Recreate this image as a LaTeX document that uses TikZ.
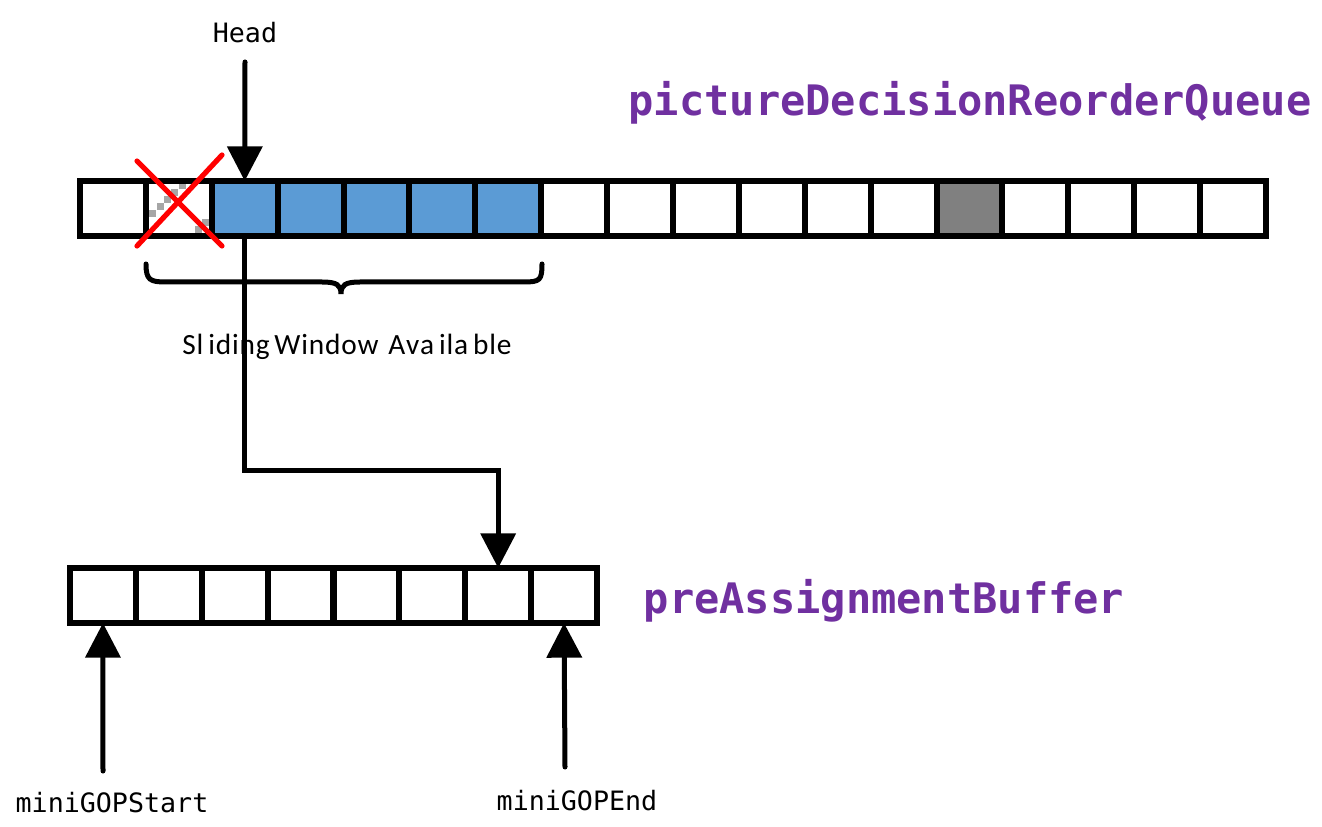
\documentclass[tikz,border=0pt]{standalone}
\usepackage{fontspec}
\setmainfont{Carlito}
\setmonofont{DejaVu Sans Mono}
\usetikzlibrary{arrows.meta}
\definecolor{qblue}{HTML}{5B9BD5}
\definecolor{qgray}{HTML}{808080}
\definecolor{chk}{HTML}{A6A6A6}
\definecolor{titlepurple}{HTML}{7030A0}
\newcommand\lk{\kern0.6pt}
\tikzset{
  cell/.style={draw=black, line width=4.5pt, minimum width=49.42pt, minimum height=41.25pt, inner sep=0pt, outer sep=0pt},
  bluecell/.style={cell, fill=qblue},
  graycell/.style={cell, fill=qgray},
  arr/.style={line width=3.75pt, -{Triangle[length=26pt,width=26pt]}},
  lbl/.style={font=\ttfamily\fontsize{20}{24}\selectfont, inner sep=0pt},
  title/.style={font=\ttfamily\bfseries\fontsize{31.5}{36}\selectfont, text=titlepurple, inner sep=0pt},
  crossline/.style={draw=red, line width=3.9pt, line cap=round},
  bracepath/.style={line width=3.75pt, line cap=round}
}
\begin{document}
\begin{tikzpicture}[x=0.75pt,y=-0.75pt]
\useasboundingbox (0,0) rectangle (1322,827);
% checker pattern in cell 2
\foreach \cx/\cy in {149/210,157/203,164/196,171/189,179/182,195/226,202/219}
  \fill[chk] (\cx,\cy) rectangle ++(7,7);
% top row
\foreach \i in {1,...,18}{
  \ifnum\i>2 \ifnum\i<8
    \node[bluecell] (q\i) at ({80+65.89*(\i-0.5)},208.5) {};
  \else
    \ifnum\i=14
      \node[graycell] (q\i) at ({80+65.89*(\i-0.5)},208.5) {};
    \else
      \node[cell] (q\i) at ({80+65.89*(\i-0.5)},208.5) {};
    \fi
  \fi
  \else
    \node[cell] (q\i) at ({80+65.89*(\i-0.5)},208.5) {};
  \fi
}
% bottom row
\foreach \i in {1,...,8}{
  \node[cell] (b\i) at ({70+65.875*(\i-0.5)},595.5) {};
}
% red cross
\draw[crossline] (137,161) -- (222,246);
\draw[crossline] (222,155) -- (137,246);
% titles
\node[title] (tq) at (970,103) {pictureDecisionReorderQueue};
\node[title] (tb) at (884,601) {preAssignmentBuffer};
% head
\node[lbl] (head) at (245,33) {Head};
\coordinate (headtop) at (245,62);
\draw[arr, line cap=round] (headtop) -- (q3.north);
% brace
\draw[bracepath] (146,264) .. controls (146,280) and (150,282) .. (166,282)
  -- (322,282) .. controls (337,282) and (341,285) .. (341,294)
  .. controls (341,285) and (345,282) .. (360,282)
  -- (524,282) .. controls (540,282) and (542,280) .. (542,264);
\node[font=\fontsize{22}{26}\selectfont, inner sep=0pt] (sw) at (347,347) {S\lk l\,i\lk d\lk i\lk n\lk g\,W\lk i\lk n\lk d\lk o\lk w\,\,A\lk v\lk a\,i\lk l\lk a\,b\lk l\lk e};
% connection to buffer
\coordinate (mid) at (372,470);
\draw[arr] (q3.south) |- (mid) -| (b7.north);
% bottom pointers
\coordinate (sbot) at (103,771);
\coordinate (ebot) at (565,767);
\draw[arr, line cap=round] (sbot) -- (b1.south);
\draw[arr, line cap=round] (ebot) -- (b8.south);
\node[lbl] (ms) at (112,803) {miniGOPStart};
\node[lbl] (me) at (577,801) {miniGOPEnd};
\end{tikzpicture}
\end{document}
